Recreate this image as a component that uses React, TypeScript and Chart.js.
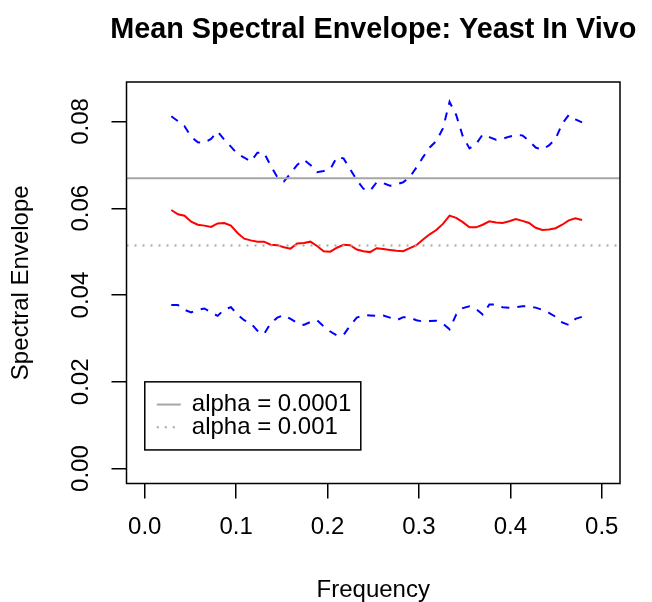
import React, { useEffect, useRef } from 'react';
import { Chart, registerables } from 'chart.js';

Chart.register(...registerables);

const FONT = '"Liberation Sans", Arial, Helvetica, sans-serif';

const chartTitle = 'Mean Spectral Envelope: Yeast In Vivo';
const xAxisTitle = 'Frequency';
const yAxisTitle = 'Spectral Envelope';

const frequency = [
  0.029, 0.03625, 0.0435, 0.05075, 0.058, 0.06525, 0.0725, 0.07975, 0.087, 0.09425,
  0.1015, 0.10875, 0.116, 0.12325, 0.1305, 0.13775, 0.145, 0.15225, 0.1595, 0.16675,
  0.174, 0.18125, 0.1885, 0.19575, 0.203, 0.21025, 0.2175, 0.22475, 0.232, 0.23925,
  0.2465, 0.25375, 0.261, 0.26825, 0.2755, 0.28275, 0.29, 0.29725, 0.3045, 0.31175,
  0.319, 0.32625, 0.3335, 0.34075, 0.348, 0.35525, 0.3625, 0.36975, 0.377, 0.38425,
  0.3915, 0.39875, 0.406, 0.41325, 0.4205, 0.42775, 0.435, 0.44225, 0.4495, 0.45675,
  0.464, 0.47125, 0.4785,
];

const meanEnvelope = [
  0.0596, 0.0586, 0.0583, 0.0569, 0.0562, 0.0560, 0.0557, 0.0565, 0.0566, 0.0560,
  0.0543, 0.0530, 0.0526, 0.0523, 0.0523, 0.0516, 0.0515, 0.0510, 0.0507, 0.0519,
  0.0520, 0.0523, 0.0513, 0.0501, 0.0500, 0.0509, 0.0516, 0.0515, 0.0505, 0.0501,
  0.0499, 0.0508, 0.0506, 0.0504, 0.0502, 0.0501, 0.0508, 0.0515, 0.0528, 0.0540,
  0.0550, 0.0564, 0.0583, 0.0578, 0.0568, 0.0556, 0.0556, 0.0562, 0.0570, 0.0567,
  0.0566, 0.0570, 0.0575, 0.0571, 0.0566, 0.0555, 0.0550, 0.0551, 0.0554, 0.0562,
  0.0572, 0.0577, 0.0573,
];

const upperBand = [
  0.0812, 0.0801, 0.0789, 0.0765, 0.0752, 0.0751, 0.0760, 0.0777, 0.0758, 0.0742,
  0.0725, 0.0717, 0.0708, 0.0728, 0.0728, 0.0698, 0.0672, 0.0662, 0.0680, 0.0700,
  0.0712, 0.0700, 0.0683, 0.0686, 0.0690, 0.0718, 0.0715, 0.0690, 0.0665, 0.0645,
  0.0640, 0.0660, 0.0658, 0.0652, 0.0655, 0.0660, 0.0672, 0.0694, 0.0718, 0.0740,
  0.0755, 0.0784, 0.0845, 0.0815, 0.0766, 0.0738, 0.0748, 0.0770, 0.0764, 0.0758,
  0.0760, 0.0765, 0.0769, 0.0768, 0.0755, 0.0740, 0.0735, 0.0745, 0.0760, 0.0795,
  0.0815, 0.0805, 0.0798,
];

const lowerBand = [
  0.0377, 0.0377, 0.0366, 0.0360, 0.0366, 0.0369, 0.0360, 0.0352, 0.0367, 0.0372,
  0.0355, 0.0342, 0.0335, 0.0318, 0.0310, 0.0335, 0.0348, 0.0354, 0.0345, 0.0336,
  0.0331, 0.0338, 0.0342, 0.0328, 0.0316, 0.0307, 0.0308, 0.0330, 0.0348, 0.0354,
  0.0353, 0.0352, 0.0353, 0.0348, 0.0342, 0.0349, 0.0348, 0.0342, 0.0339, 0.0340,
  0.0341, 0.0334, 0.0321, 0.0355, 0.0370, 0.0374, 0.0368, 0.0355, 0.0378, 0.0378,
  0.0372, 0.0371, 0.0372, 0.0374, 0.0374, 0.0371, 0.0366, 0.0359, 0.0350, 0.0337,
  0.0331, 0.0345, 0.0350,
];

// significance thresholds (horizontal lines)
const thresholdValues = [0.0669, 0.0514];
const legendLabels = ['alpha = 0.0001', 'alpha = 0.001'];
const legendAnchor = [0, 0.02];

const xRange = [-0.02, 0.52];
const yRange = [-0.00343, 0.0891];
const xTicks = [0, 0.1, 0.2, 0.3, 0.4, 0.5];
const xTickLabels = ['0.0', '0.1', '0.2', '0.3', '0.4', '0.5'];
const yTicks = [0, 0.02, 0.04, 0.06, 0.08];
const yTickLabels = ['0.00', '0.02', '0.04', '0.06', '0.08'];

export default function App() {
  const ref = useRef<HTMLCanvasElement>(null);

  useEffect(() => {
    document.body.style.margin = '0';
    document.body.style.overflow = 'hidden';
    const canvas = ref.current;
    if (!canvas) return;

    const toXY = (ys: number[]) => frequency.map((f, i) => ({ x: f, y: ys[i] }));
    const hLine = (v: number) => [
      { x: xRange[0], y: v },
      { x: xRange[1], y: v },
    ];

    const rPlugin = {
      id: 'rStyleBoxLegend',
      afterDraw(chart: any) {
        const { ctx, chartArea: a, scales } = chart;
        ctx.save();
        // main title, centred over the plot region (R style)
        ctx.fillStyle = '#000';
        ctx.font = `bold 28.8px ${FONT}`;
        ctx.textAlign = 'center';
        ctx.textBaseline = 'alphabetic';
        ctx.fillText(chartTitle, (a.left + a.right) / 2, 38);

        ctx.strokeStyle = '#000';
        ctx.lineWidth = 1.5;
        ctx.strokeRect(a.left, a.top, a.right - a.left, a.bottom - a.top);

        const lx = scales.x.getPixelForValue(legendAnchor[0]);
        const ly = scales.y.getPixelForValue(legendAnchor[1]);
        const w = 216;
        const rowH = 22.7;
        const h = rowH * 3;
        ctx.fillStyle = '#fff';
        ctx.fillRect(lx, ly, w, h);
        ctx.strokeRect(lx, ly, w, h);
        const styles = [
          { dash: [], color: '#a6a6a6' },
          { dash: [2, 6], color: '#a6a6a6' },
        ];
        legendLabels.forEach((lab, i) => {
          const y = ly + rowH * (i + 1);
          ctx.beginPath();
          ctx.setLineDash(styles[i].dash);
          ctx.strokeStyle = styles[i].color;
          ctx.lineWidth = 2;
          ctx.moveTo(lx + 12, y);
          ctx.lineTo(lx + 36, y);
          ctx.stroke();
          ctx.setLineDash([]);
          ctx.fillStyle = '#000';
          ctx.font = `24px ${FONT}`;
          ctx.textAlign = 'left';
          ctx.textBaseline = 'middle';
          ctx.fillText(lab, lx + 47, y);
        });
        ctx.restore();
      },
    };

    const chart = new Chart(canvas, {
      type: 'line',
      data: {
        datasets: [
          {
            label: 'thr1',
            data: hLine(thresholdValues[0]),
            borderColor: '#a6a6a6',
            borderWidth: 2,
            pointRadius: 0,
          },
          {
            label: 'thr2',
            data: hLine(thresholdValues[1]),
            borderColor: '#a6a6a6',
            borderWidth: 2,
            borderDash: [2, 6],
            pointRadius: 0,
          },
          {
            label: 'upper',
            data: toXY(upperBand),
            borderColor: '#0000ff',
            borderWidth: 2,
            borderDash: [8, 8],
            pointRadius: 0,
          },
          {
            label: 'lower',
            data: toXY(lowerBand),
            borderColor: '#0000ff',
            borderWidth: 2,
            borderDash: [8, 8],
            pointRadius: 0,
          },
          {
            label: 'mean',
            data: toXY(meanEnvelope),
            borderColor: '#ff0000',
            borderWidth: 2,
            pointRadius: 0,
          },
        ],
      },
      options: {
        responsive: false,
        animation: false,
        devicePixelRatio: 1,
        layout: { padding: { left: 0, right: 32, top: 82, bottom: 0 } },
        plugins: {
          legend: { display: false },
          tooltip: { enabled: false },
          title: { display: false },
        },
        scales: {
          x: {
            type: 'linear',
            min: xRange[0],
            max: xRange[1],
            afterBuildTicks: (s: any) => {
              s.ticks = xTicks.map((v) => ({ value: v }));
            },
            afterFit: (s: any) => {
              s.height = 118.5;
            },
            ticks: {
              autoSkip: false,
              maxRotation: 0,
              minRotation: 0,
              color: '#000',
              padding: 14,
              font: { family: FONT, size: 24, lineHeight: 1.2 },
              callback: (_v: any, i: number) => xTickLabels[i],
            },
            grid: {
              drawOnChartArea: false,
              drawTicks: true,
              tickLength: 15,
              color: '#000',
              lineWidth: 1.5,
            },
            border: { display: false },
            title: {
              display: true,
              text: xAxisTitle,
              color: '#000',
              font: { family: FONT, size: 24, lineHeight: 1 },
              padding: { top: 0, bottom: 0 },
            },
          },
          y: {
            type: 'linear',
            min: yRange[0],
            max: yRange[1],
            afterBuildTicks: (s: any) => {
              s.ticks = yTicks.map((v) => ({ value: v }));
            },
            afterFit: (s: any) => {
              s.width = 126.5;
            },
            ticks: {
              autoSkip: false,
              minRotation: 90,
              maxRotation: 90,
              crossAlign: 'center',
              color: '#000',
              padding: 7,
              font: { family: FONT, size: 24, lineHeight: 1.2 },
              callback: (_v: any, i: number) => yTickLabels[i],
            },
            grid: {
              drawOnChartArea: false,
              drawTicks: true,
              tickLength: 15,
              color: '#000',
              lineWidth: 1.5,
            },
            border: { display: false },
            title: {
              display: true,
              text: yAxisTitle,
              color: '#000',
              font: { family: FONT, size: 24, lineHeight: 1 },
              padding: { top: 9.7, bottom: 0 },
            },
          },
        },
      },
      plugins: [rPlugin],
    } as any);

    return () => chart.destroy();
  }, []);

  return (
    <div style={{ width: 652, height: 602 }}>
      <canvas ref={ref} width={652} height={602} style={{ display: 'block' }} />
    </div>
  );
}
